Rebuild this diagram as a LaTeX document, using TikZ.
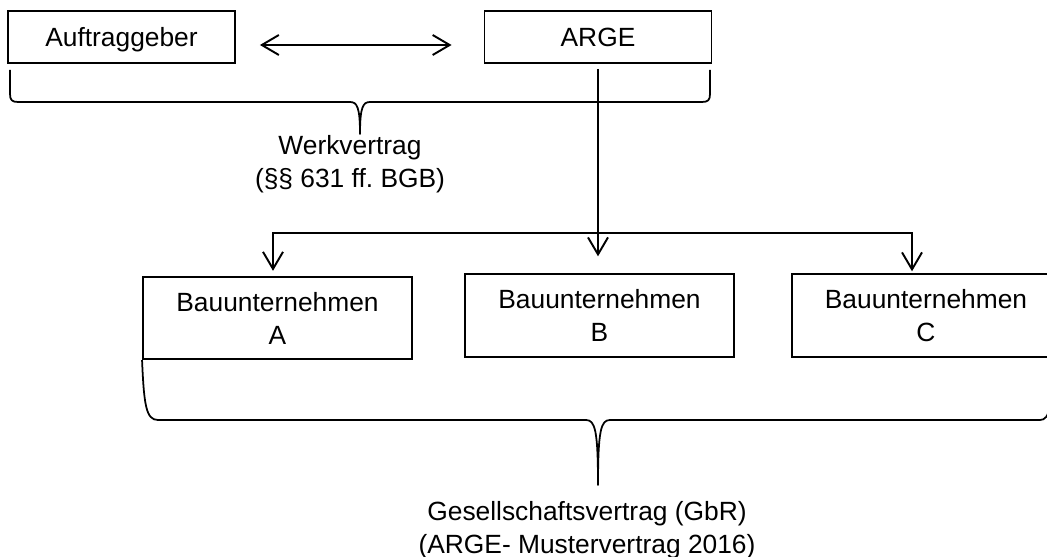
\documentclass[tikz,border=0pt]{standalone}
\usepackage{fontspec}
\setmainfont{Liberation Sans}[Ligatures=CommonOff]
\usetikzlibrary{arrows.meta}
\frenchspacing
\begin{document}
\begin{tikzpicture}[x=0.02cm,y=-0.02cm,
  txt/.style={font=\fontsize{15pt}{18.8pt}\selectfont},
  lbl/.style={txt, align=center, inner sep=0pt},
  topbox/.style={txt, draw, line width=1.1pt, minimum width=4.54cm,
    minimum height=1.04cm, inner sep=0pt, text depth=0pt},
  firmbox/.style={txt, draw, line width=1.1pt, minimum width=5.38cm,
    minimum height=1.65cm, inner sep=0pt, align=center},
  link/.style={line width=1.1pt},
  barb/.tip={Straight Barb[length=3.4mm,width=4mm]},
  arr/.style={link, -barb},
  brace/.style={line width=1pt, line join=round}]
\clip (0,0) rectangle (1047,557);

% parties
\node[topbox] (ag) at (121.5,37) {Auftraggeber};
\node[topbox] (arge) at (598,37) {ARGE};
\node[firmbox] (a) at (277.5,318) {Bauunternehmen\\A};
\node[firmbox] (b) at (599.5,315.5) {Bauunternehmen\\B};
\node[firmbox] (c) at (926,315.5) {Bauunternehmen\\C};

% contract between client and joint venture
\draw[link, barb-barb, shorten <=0.48cm, shorten >=0.64cm]
  ([yshift=-0.16cm]ag.east) -- ([yshift=-0.16cm]arge.west);

% joint venture down to its member firms
\draw[arr, shorten <=0.1cm, shorten >=0.34cm] (arge.south) -- (arge.south |- b.north);
\coordinate (busA) at (273,233);
\coordinate (busC) at (912,233);
\draw[link, barb-barb, shorten <=0.1cm, shorten >=0.04cm]
  (busA |- a.north) -- (busA) -- (busC) -- (busC |- c.north);

% brace: Werkvertrag
\draw[brace] (10,70) -- (10,94) .. controls (10,100) and (12,102) .. (18,102)
  -- (350,102) .. controls (357,102) and (360,107) .. (360,134)
  .. controls (360,107) and (363,102) .. (370,102)
  -- (702,102) .. controls (708,102) and (710,100) .. (710,94) -- (710,70);
\node[lbl] (wv) at (350,164.5) {Werkvertrag\\(§§ 631 ff. BGB)};

% brace: Gesellschaftsvertrag
\draw[brace] (a.south west) .. controls (144,405) and (146,420) .. (158,420)
  -- (586,420) .. controls (595,420) and (598,430) .. (598,485)
  .. controls (598,430) and (601,420) .. (610,420)
  -- (1040,420) .. controls (1050,420) and (1052,405) .. (1052,359);
\node[lbl] (gv) at (587,530) {Gesellschaftsvertrag (GbR)\\(ARGE- Mustervertrag 2016)};
\end{tikzpicture}
\end{document}
